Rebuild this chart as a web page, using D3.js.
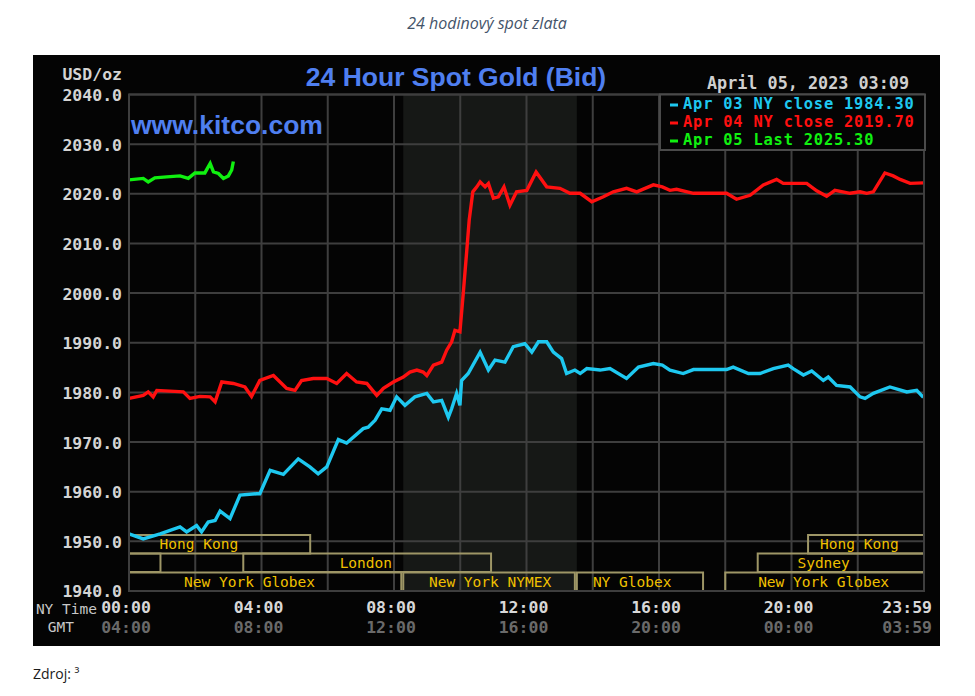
<!DOCTYPE html>
<html><head><meta charset="utf-8">
<script src="https://cdn.jsdelivr.net/npm/d3@7"></script>
<style>body{margin:0;background:#fff;} svg{display:block}</style>
</head><body><svg id="c" width="975" height="696"></svg>
<script>
// ---------- DATA ----------
const pageCaption = "24 hodinový spot zlata";
const sourceNote = "Zdroj: ³";
const chartTitle = "24 Hour Spot Gold (Bid)";
const siteLabel = "www.kitco.com";
const unitLabel = "USD/oz";
const stampLabel = "April 05, 2023 03:09";
const yTicks = [2040, 2030, 2020, 2010, 2000, 1990, 1980, 1970, 1960, 1950, 1940];
const gridHours = [0, 2, 4, 6, 8, 10, 12, 14, 16, 18, 20, 22, 24];
const timeTickHours = [0, 4, 8, 12, 16, 20, 23.98];
const nyTimeLabels = ["00:00", "04:00", "08:00", "12:00", "16:00", "20:00", "23:59"];
const gmtLabels = ["04:00", "08:00", "12:00", "16:00", "20:00", "00:00", "03:59"];
const legendLabels = ["Apr 03 NY close 1984.30", "Apr 04 NY close 2019.70", "Apr 05 Last 2025.30"];
const seriesColors = ["#1ec8f0", "#ff1010", "#10f010"];
const nymexHours = [8.28, 13.52];

// [hour (NY time), USD/oz]
const apr03 = [[0,1951.5],[0.43,1950.5],[0.94,1951.5],[1.54,1952.9],[1.74,1951.9],[2.04,1953.2],[2.19,1951.9],[2.39,1953.9],[2.6,1954.2],[2.75,1956.1],[3.05,1954.6],[3.35,1959.3],[3.86,1959.6],[3.95,1959.6],[4.26,1964.3],[4.66,1963.5],[5.11,1966.6],[5.46,1965.0],[5.71,1963.6],[5.97,1965.0],[6.32,1970.5],[6.57,1969.8],[7.07,1972.7],[7.22,1973.0],[7.43,1974.4],[7.63,1976.7],[7.88,1976.4],[8.08,1979.1],[8.33,1977.4],[8.63,1979.1],[8.99,1979.8],[9.19,1978.1],[9.44,1978.4],[9.64,1975.0],[9.74,1976.7],[9.89,1979.8],[9.99,1977.4],[10.04,1982.4],[10.24,1983.8],[10.6,1988.1],[10.85,1984.5],[11.05,1986.5],[11.35,1986.1],[11.6,1989.2],[11.95,1989.8],[12.16,1988.1],[12.36,1990.2],[12.61,1990.2],[12.81,1988.1],[13.06,1986.8],[13.21,1983.8],[13.46,1984.5],[13.62,1983.8],[13.82,1984.8],[14.22,1984.5],[14.52,1984.8],[15.02,1982.8],[15.38,1985.1],[15.83,1985.8],[16.1,1985.5],[16.33,1984.5],[16.73,1983.8],[17.04,1984.6],[18.04,1984.6],[18.24,1985.1],[18.7,1983.8],[19.05,1983.8],[19.45,1984.8],[19.9,1985.5],[20.05,1984.8],[20.36,1983.5],[20.61,1984.3],[20.96,1982.4],[21.11,1983.1],[21.36,1981.4],[21.77,1981.1],[22.07,1979.1],[22.22,1978.8],[22.47,1979.8],[22.97,1981.1],[23.48,1980.1],[23.78,1980.4],[23.98,1979.0]];
const apr04 = [[0,1978.8],[0.43,1979.4],[0.58,1980.1],[0.73,1979.1],[0.84,1980.4],[1.64,1980.1],[1.84,1978.8],[2.14,1979.2],[2.45,1979.1],[2.6,1978.1],[2.8,1982.1],[3.15,1981.8],[3.5,1981.1],[3.7,1979.2],[3.95,1982.4],[4.36,1983.4],[4.76,1980.8],[5.01,1980.4],[5.21,1982.4],[5.56,1982.8],[5.97,1982.8],[6.27,1981.8],[6.57,1983.8],[6.87,1982.1],[7.18,1981.8],[7.48,1979.4],[7.68,1980.8],[7.98,1982.1],[8.28,1983.1],[8.48,1984.1],[8.69,1984.5],[8.88,1984.1],[8.99,1983.4],[9.19,1985.5],[9.44,1986.1],[9.59,1988.5],[9.74,1990.2],[9.84,1992.5],[9.99,1992.2],[10.09,1999.9],[10.19,2008.0],[10.27,2014.7],[10.38,2020.4],[10.5,2021.4],[10.6,2022.4],[10.75,2021.4],[10.85,2022.1],[11.0,2019.1],[11.15,2019.4],[11.32,2021.4],[11.5,2017.7],[11.7,2020.4],[12.01,2020.7],[12.29,2024.4],[12.61,2021.4],[13.01,2021.1],[13.31,2020.1],[13.62,2020.1],[13.97,2018.4],[14.32,2019.4],[14.62,2020.4],[15.02,2021.1],[15.33,2020.4],[15.83,2021.8],[16.1,2021.4],[16.33,2020.7],[16.53,2020.9],[17.04,2020.1],[18.04,2020.1],[18.34,2018.9],[18.75,2019.7],[19.15,2021.8],[19.55,2022.9],[19.75,2022.1],[20.46,2022.1],[20.76,2020.6],[21.06,2019.5],[21.31,2020.7],[21.77,2020.1],[22.07,2020.4],[22.27,2020.1],[22.47,2020.4],[22.82,2024.2],[23.07,2023.6],[23.28,2022.9],[23.58,2022.1],[23.98,2022.2]];
const apr05 = [[0,2022.8],[0.43,2023.1],[0.58,2022.4],[0.78,2023.2],[1.14,2023.4],[1.54,2023.6],[1.79,2023.1],[1.99,2024.2],[2.29,2024.2],[2.45,2026.1],[2.55,2024.4],[2.7,2024.1],[2.85,2023.1],[3.0,2023.6],[3.1,2024.8],[3.15,2026.5]];

// trading sessions: row (0 top .. 2 bottom), start hour, end hour, label, label centre hour
const sessionNames  = ["Hong Kong", "", "London", "New York Globex", "New York NYMEX", "NY Globex", "Sydney", "Hong Kong", "New York Globex"];
const sessionRows   = [0, 1, 1, 2, 2, 2, 1, 0, 2];
const sessionStart  = [0, 0, 3.45, 0, 8.28, 13.52, 18.98, 20.5, 18.0];
const sessionEnd    = [5.47, 0.95, 10.93, 8.22, 13.46, 17.33, 24, 24, 24];
const sessionLabelAt= [2.11, 0, 7.15, 3.64, 10.9, 15.19, 20.97, 22.05, 20.97];

// ---------- DRAW ----------
const svg = d3.select("#c");
const mono = "'DejaVu Sans Mono', 'Liberation Mono', monospace";
const x = d3.scaleLinear().domain([0, 24]).range([129, 924]);
const y = d3.scaleLinear().domain([1940, 2040]).range([591, 94.5]);

svg.append("rect").attr("x", 0).attr("y", 0).attr("width", 975).attr("height", 696).attr("fill", "#fff");
svg.append("text").attr("x", 487).attr("y", 29).attr("text-anchor", "middle")
  .attr("font-family", "'Open Sans', sans-serif").attr("font-style", "italic").attr("font-size", 16)
  .attr("fill", "#44546a").text(pageCaption);
svg.append("text").attr("x", 33).attr("y", 679)
  .attr("font-family", "'Open Sans', sans-serif").attr("font-size", 14)
  .attr("fill", "#1a1a1a").text(sourceNote);

// black panel
svg.append("rect").attr("x", 33).attr("y", 55).attr("width", 907).attr("height", 591).attr("fill", "#040404");

// NYMEX shading
svg.append("rect").attr("x", x(nymexHours[0])).attr("y", y(2040))
  .attr("width", x(nymexHours[1]) - x(nymexHours[0])).attr("height", y(1940) - y(2040))
  .attr("fill", "#161816");

// grid
const grid = svg.append("g").attr("stroke", "#3e3e3e").attr("stroke-width", 2);
grid.selectAll("line.h").data(yTicks).join("line").attr("class", "h")
  .attr("x1", x(0)).attr("x2", x(24)).attr("y1", d => y(d)).attr("y2", d => y(d));
grid.selectAll("line.v").data(gridHours).join("line").attr("class", "v")
  .attr("x1", d => x(d)).attr("x2", d => x(d)).attr("y1", y(2040)).attr("y2", y(1940));

// y axis labels
const yAxis = d3.axisLeft(y).tickValues(yTicks).tickSize(0).tickPadding(0).tickFormat(d3.format(".1f"));
const ya = svg.append("g").attr("transform", "translate(122,0)").call(yAxis);
ya.select(".domain").remove();
ya.selectAll("text").attr("font-family", mono).attr("font-weight", "bold").attr("font-size", 16.5)
  .attr("fill", "#d4d4d4").attr("dy", "0.36em");

svg.append("text").attr("x", 122).attr("y", 80).attr("text-anchor", "end")
  .attr("font-family", mono).attr("font-weight", "bold").attr("font-size", 16.5).attr("fill", "#d4d4d4").text(unitLabel);

// sessions
const rowTop = [535, 553.5, 572.5];
const rowH = 18.5;
const sess = sessionNames.map((n, i) => ({name: n, row: sessionRows[i], s: sessionStart[i], e: sessionEnd[i], at: sessionLabelAt[i]}));
svg.append("g").selectAll("rect").data(sess).join("rect")
  .attr("x", d => x(d.s)).attr("y", d => rowTop[d.row])
  .attr("width", d => x(d.e) - x(d.s)).attr("height", rowH)
  .attr("fill", "none").attr("stroke", "#9e9666").attr("stroke-width", 2);
svg.append("g").selectAll("text").data(sess.filter(d => d.name)).join("text")
  .attr("x", d => x(d.at)).attr("y", d => rowTop[d.row] + 14)
  .attr("text-anchor", "middle").attr("font-family", mono).attr("font-size", 14.5)
  .attr("fill", "#f0c000").text(d => d.name);

// lines
const line = d3.line().x(d => x(d[0])).y(d => y(d[1]));
[apr03, apr04, apr05].forEach((s, i) => {
  svg.append("path").datum(s).attr("d", line).attr("fill", "none")
    .attr("stroke", seriesColors[i]).attr("stroke-width", 3.4).attr("stroke-linejoin", "miter");
});

// frame
svg.append("rect").attr("x", x(0)).attr("y", y(2040)).attr("width", x(24) - x(0)).attr("height", y(1940) - y(2040))
  .attr("fill", "none").attr("stroke", "#3e3e3e").attr("stroke-width", 2);

// legend
svg.append("rect").attr("x", 660).attr("y", 94.5).attr("width", 265).attr("height", 55.5)
  .attr("fill", "#040404").attr("stroke", "#4a4a4a").attr("stroke-width", 2);
const lg = svg.append("g").selectAll("g").data(legendLabels).join("g")
  .attr("transform", (d, i) => `translate(670,${109 + i * 18})`);
lg.append("rect").attr("x", 0).attr("y", -5.5).attr("width", 8).attr("height", 3).attr("fill", (d, i) => seriesColors[i]);
lg.append("text").attr("x", 13).attr("y", 0).attr("font-family", mono).attr("font-weight", "bold").attr("font-size", 15.4)
  .attr("letter-spacing", 0.8)
  .attr("fill", (d, i) => seriesColors[i]).text(d => d);

// titles
svg.append("text").attr("x", 456).attr("y", 86).attr("text-anchor", "middle")
  .attr("font-family", "'Liberation Sans', Arial, sans-serif").attr("font-weight", "bold").attr("font-size", 26.5)
  .attr("fill", "#4f7ff0").text(chartTitle);
svg.append("text").attr("x", 131).attr("y", 134)
  .attr("font-family", "'Liberation Sans', Arial, sans-serif").attr("font-weight", "bold").attr("font-size", 26.5)
  .attr("fill", "#4f7ff0").text(siteLabel);
svg.append("text").attr("x", 909).attr("y", 89).attr("text-anchor", "end")
  .attr("font-family", mono).attr("font-weight", "bold").attr("font-size", 16.8).attr("fill", "#cfcfcf").text(stampLabel);

// time axis
const tt = timeTickHours.map((h, i) => ({h, ny: nyTimeLabels[i], gmt: gmtLabels[i], last: i === timeTickHours.length - 1}));
svg.append("g").selectAll("text").data(tt).join("text")
  .attr("x", d => d.last ? 932 : x(d.h) - 3).attr("y", 613).attr("text-anchor", d => d.last ? "end" : "middle")
  .attr("font-family", mono).attr("font-weight", "bold").attr("font-size", 16.5).attr("fill", "#d8d8d8").text(d => d.ny);
svg.append("g").selectAll("text").data(tt).join("text")
  .attr("x", d => d.last ? 932 : x(d.h) - 3).attr("y", 633).attr("text-anchor", d => d.last ? "end" : "middle")
  .attr("font-family", mono).attr("font-weight", "bold").attr("font-size", 16.5).attr("fill", "#6a6a6a").text(d => d.gmt);
svg.append("text").attr("x", 97).attr("y", 614).attr("text-anchor", "end")
  .attr("font-family", mono).attr("font-size", 14.5).attr("fill", "#c8c8c8").text("NY Time");
svg.append("text").attr("x", 74).attr("y", 632).attr("text-anchor", "end")
  .attr("font-family", mono).attr("font-size", 14.5).attr("fill", "#c8c8c8").text("GMT");
</script></body></html>
